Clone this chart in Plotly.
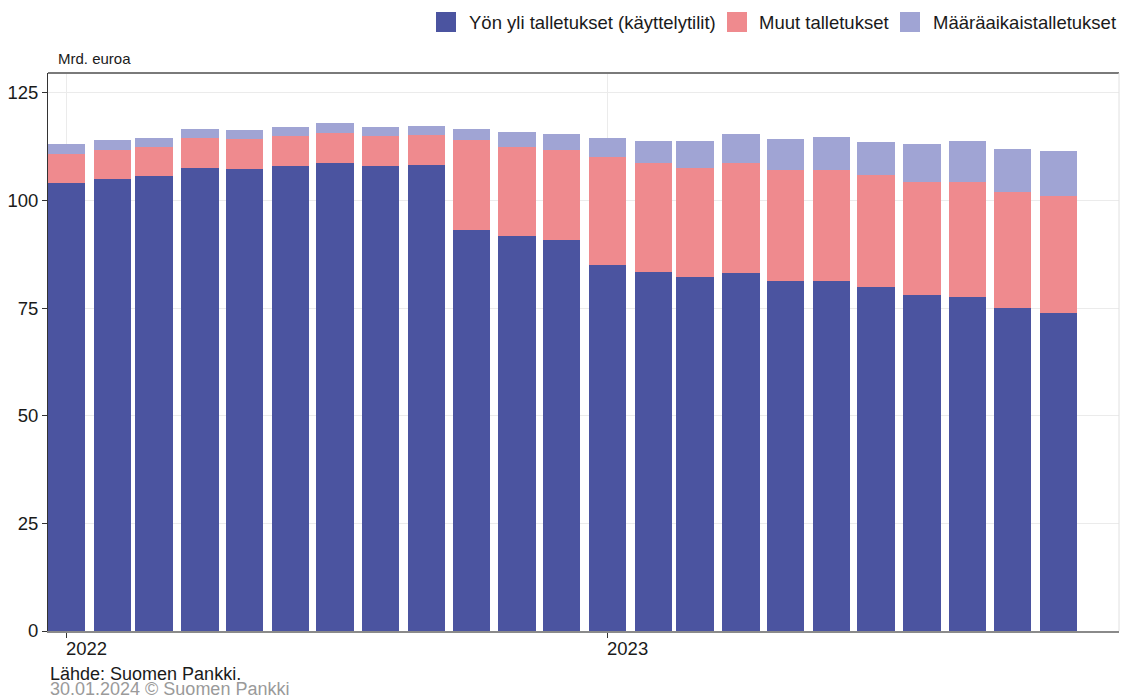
import plotly.graph_objects as go

months = ["2022-01-01", "2022-02-01", "2022-03-01", "2022-04-01", "2022-05-01", "2022-06-01",
          "2022-07-01", "2022-08-01", "2022-09-01", "2022-10-01", "2022-11-01", "2022-12-01",
          "2023-01-01", "2023-02-01", "2023-03-01", "2023-04-01", "2023-05-01", "2023-06-01",
          "2023-07-01", "2023-08-01", "2023-09-01", "2023-10-01", "2023-11-01"]

yon_yli = [104.1, 105.0, 105.6, 107.6, 107.2, 107.9, 108.7, 107.9, 108.2, 93.2, 91.8, 90.8,
           85.0, 83.4, 82.3, 83.1, 81.3, 81.4, 80.0, 78.1, 77.6, 75.0, 73.8]
muut = [6.8, 6.8, 6.8, 7.0, 7.0, 7.0, 6.9, 7.0, 7.0, 20.8, 20.7, 20.9,
        25.1, 25.2, 25.2, 25.5, 25.7, 25.7, 26.0, 26.3, 26.7, 26.9, 27.2]
maaraaikais = [2.3, 2.3, 2.2, 2.0, 2.2, 2.1, 2.3, 2.1, 2.2, 2.6, 3.3, 3.8,
               4.5, 5.3, 6.2, 6.8, 7.2, 7.6, 7.6, 8.7, 9.5, 10.1, 10.6]

series_names = ["Yön yli talletukset (käyttelytilit)", "Muut talletukset", "Määräaikaistalletukset"]
series_colors = ["#4B54A0", "#EF8A8E", "#A0A4D4"]
series_values = [yon_yli, muut, maaraaikais]

y_ticks = [0, 25, 50, 75, 100, 125]
x_ticks = ["2022-01-01", "2023-01-01"]
x_ticklabels = ["2022", "2023"]

W, H = 1122, 699
ML, MR, MT, MB = 48, 3, 73, 68
PW, PH = W - ML - MR, H - MT - MB

DAY_MS = 86400000
bar_width = 25.2 * DAY_MS
FONT = "Liberation Sans, Arial, sans-serif"
TXT = "#1a1a1a"

fig = go.Figure()
for name, color, vals in zip(series_names, series_colors, series_values):
    fig.add_trace(go.Bar(x=months, y=vals, name=name, marker=dict(color=color, line=dict(width=0)),
                         width=[bar_width] * len(months), showlegend=False))

fig.update_layout(
    barmode="stack",
    width=W, height=H,
    margin=dict(l=ML, r=MR, t=MT, b=MB, autoexpand=False),
    paper_bgcolor="white", plot_bgcolor="white",
    font=dict(family=FONT, size=18.5, color=TXT),
    showlegend=False,
    xaxis=dict(type="date", range=["2021-12-19 12:00", "2023-12-12"],
               tickvals=x_ticks, ticktext=x_ticklabels, ticks="outside", ticklen=5,
               tickcolor="#333", tickwidth=1, ticklabelshift=20, ticklabelstandoff=-5,
               showgrid=True, gridcolor="#EBEBEB", gridwidth=1,
               showline=True, linecolor="#8a8a8a", linewidth=1.5, automargin=False,
               tickfont=dict(size=18.5, color=TXT), zeroline=False),
    yaxis=dict(range=[0, 129.6], tickvals=y_ticks, ticks="outside", ticklen=5,
               tickcolor="#333", tickwidth=1, showgrid=True, gridcolor="#EBEBEB", gridwidth=1,
               showline=True, linecolor="#333", linewidth=1, zeroline=False, automargin=False,
               tickfont=dict(size=18.5, color=TXT)),
    bargap=0,
)

# plot frame: darker top edge, light right edge
fig.add_shape(type="line", xref="paper", yref="paper", x0=0, x1=1, y0=1, y1=1,
              line=dict(color="#7a7a7a", width=2))
fig.add_shape(type="line", xref="paper", yref="paper", x0=1, x1=1, y0=0, y1=1,
              line=dict(color="#E0E0E0", width=1))

# legend (drawn manually to match square size and spacing)
def px_x(px):
    return (px - ML) / PW

def px_y(py):
    return (H - MB - py) / PH

legend_square_left = [436, 727, 900]
legend_text_left = [467, 757, 931]
SQ = 20
LEG_CY = 22
for name, color, sx, tx in zip(series_names, series_colors, legend_square_left, legend_text_left):
    fig.add_shape(type="rect", xref="paper", yref="paper",
                  x0=px_x(sx), x1=px_x(sx + SQ), y0=px_y(LEG_CY + SQ / 2), y1=px_y(LEG_CY - SQ / 2),
                  fillcolor=color, line=dict(width=0))
    fig.add_annotation(text=name, xref="paper", yref="paper", x=px_x(tx), y=px_y(LEG_CY),
                       xanchor="left", yanchor="middle", showarrow=False,
                       font=dict(size=18.5, color=TXT))

fig.add_annotation(text="Mrd. euroa", xref="paper", yref="paper", x=0, y=1, xshift=8,
                   yshift=15, xanchor="left", yanchor="middle", showarrow=False,
                   font=dict(size=15, color=TXT))
fig.add_annotation(text="Lähde: Suomen Pankki.", xref="paper", yref="paper", x=0, y=0,
                   yshift=-43, xanchor="left", yanchor="middle", showarrow=False,
                   font=dict(size=18, color=TXT))
fig.add_annotation(text="30.01.2024 © Suomen Pankki", xref="paper", yref="paper", x=0, y=0,
                   yshift=-58, xanchor="left", yanchor="middle", showarrow=False,
                   font=dict(size=18, color="#9a9a9a"))

fig.write_html("out.html", config={"displayModeBar": False},
               post_script="document.body.style.margin='0';")
